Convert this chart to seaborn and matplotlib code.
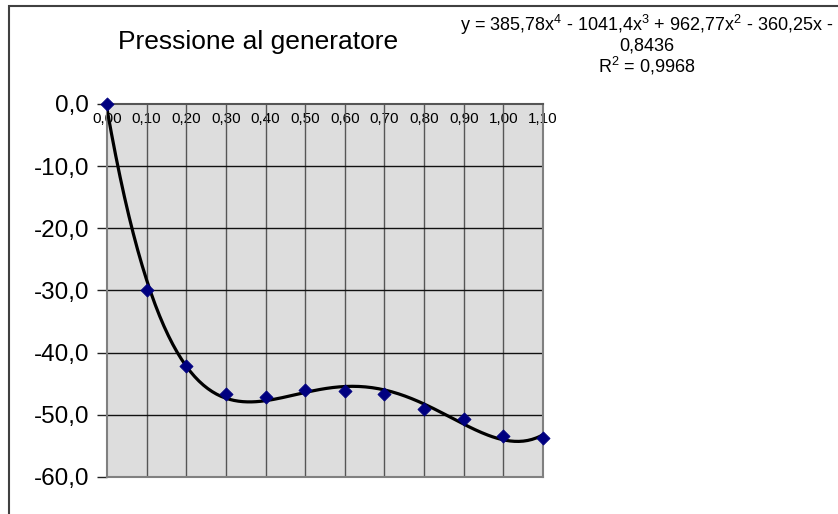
import numpy as np
import matplotlib
matplotlib.use('Agg')
import matplotlib.pyplot as plt
import seaborn as sns
from matplotlib.patches import Rectangle

# Data
portata = [0.0, 0.1, 0.2, 0.3, 0.4, 0.5, 0.6, 0.7, 0.8, 0.9, 1.0, 1.1]
pressione = [0.0, -30.0, -42.1, -46.6, -47.1, -46.0, -46.1, -46.6, -49.0, -50.6, -53.4, -53.7]

x_ticks = [0.0, 0.1, 0.2, 0.3, 0.4, 0.5, 0.6, 0.7, 0.8, 0.9, 1.0, 1.1]
x_labels = ['0,00', '0,10', '0,20', '0,30', '0,40', '0,50', '0,60', '0,70', '0,80', '0,90', '1,00', '1,10']
y_ticks = [0, -10, -20, -30, -40, -50, -60]
y_labels = ['0,0', '-10,0', '-20,0', '-30,0', '-40,0', '-50,0', '-60,0']

titolo = 'Pressione al generatore'
equazione = ('y = 385,78x$^{4}$ - 1041,4x$^{3}$ + 962,77x$^{2}$ - 360,25x -\n'
             '0,8436\nR$^{2}$ = 0,9968')

sns.set_style('white')
plt.rcParams['font.family'] = ['Liberation Sans', 'DejaVu Sans']
plt.rcParams['mathtext.fontset'] = 'custom'
plt.rcParams['mathtext.rm'] = 'Liberation Sans'
plt.rcParams['mathtext.it'] = 'Liberation Sans'
plt.rcParams['text.color'] = 'black'
plt.rcParams['xtick.color'] = 'black'
plt.rcParams['ytick.color'] = 'black'

fig = plt.figure(figsize=(8.38, 5.14), dpi=100)
ax = fig.add_axes([0.1277, 0.072, 0.5203, 0.7257])
ax.set_facecolor('#DDDDDD')

# polynomial trend line (4th order) fitted on the points
coef = np.polyfit(portata, pressione, 4)
xs = np.linspace(0, 1.1, 200)
sns.lineplot(x=xs, y=np.polyval(coef, xs), ax=ax, color='black', linewidth=2.3, zorder=3)
sns.scatterplot(x=portata, y=pressione, ax=ax, marker='D', color='#000080', s=45,
                edgecolor='#000080', zorder=4, clip_on=False)

ax.set_xlim(0, 1.1)
ax.set_ylim(-60, 0)
ax.set_xticks(x_ticks)
ax.set_xticklabels(x_labels)
ax.set_yticks(y_ticks)
ax.set_yticklabels(y_labels)
ax.xaxis.tick_top()
ax.tick_params(axis='x', top=False, labeltop=True, length=0, pad=-16, labelsize=11)
ax.tick_params(axis='y', left=True, length=7, width=1, color='#222222', pad=6, labelsize=17.5)

ax.grid(False)
for xv in x_ticks[1:-1]:
    ax.axvline(xv, color='#555555', linewidth=1, zorder=1)
for yv in y_ticks[1:-1]:
    ax.axhline(yv, color='#111111', linewidth=1, zorder=1)
for s in ax.spines.values():
    s.set_color('#808080')
    s.set_linewidth(1.5)
ax.spines['top'].set_color('#555555')

fig.text(0.308, 0.918, titolo, ha='center', va='center', fontsize=19)
fig.text(0.772, 0.975, equazione, ha='center', va='top', fontsize=13, linespacing=1.02)

# chart frame (only left and top edges visible)
fig.patches.append(Rectangle((0.011, -0.1), 1.2, 1.088, transform=fig.transFigure,
                             fill=False, edgecolor='#404040', linewidth=1.5))

fig.savefig('out.png', dpi=100)
